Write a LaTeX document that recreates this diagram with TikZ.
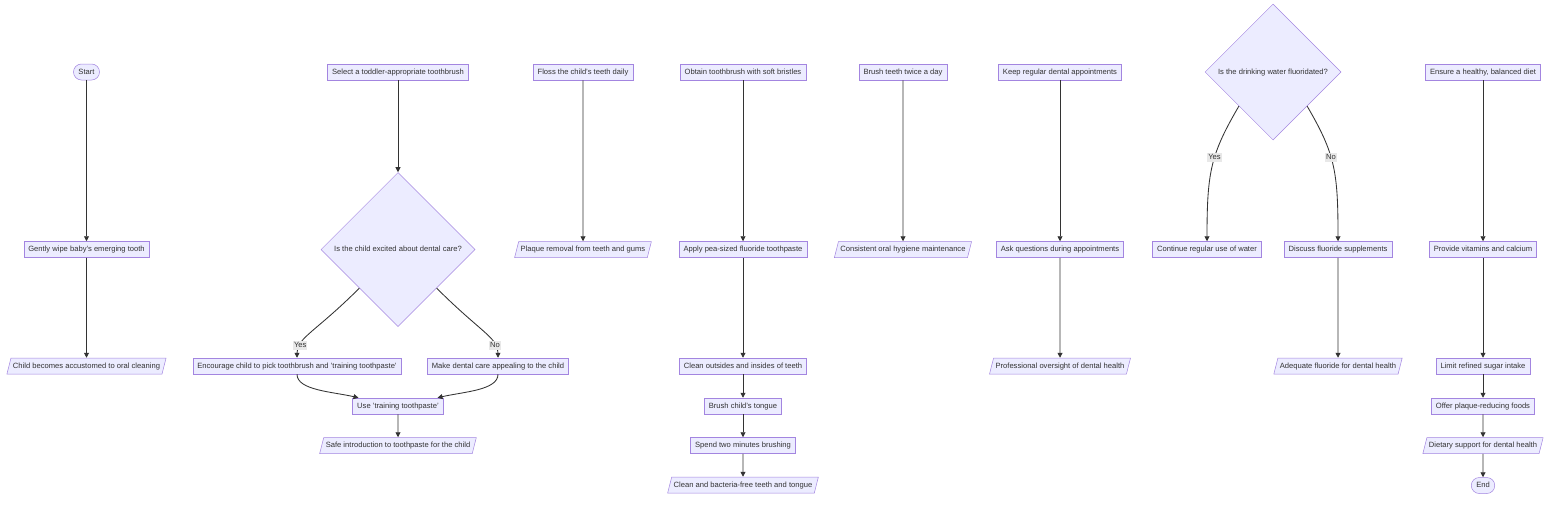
\documentclass[tikz,border=0pt]{standalone}
\usepackage{fontspec}
\setmainfont{Liberation Sans}
\usetikzlibrary{shapes.geometric,arrows.meta,calc}
\definecolor{nodefill}{HTML}{ECECFF}
\definecolor{nodeline}{HTML}{9370DB}
\definecolor{ink}{HTML}{333333}
\definecolor{lblbg}{HTML}{E8E8E8}
\begin{document}
\begin{tikzpicture}[x=1pt,y=-1pt,
  base/.style={fill=nodefill,draw=nodeline!85!white,line width=0.5pt,text=ink,font=\fontsize{7.6}{9}\selectfont,minimum height=16pt,inner xsep=4.5pt,inner ysep=2pt,text height=5.6pt,text depth=1.6pt},
  proc/.style={base,rectangle},
  io/.style={base,trapezium,trapezium left angle=70,trapezium right angle=110,trapezium stretches body,inner xsep=2pt},
  term/.style={base,rectangle,rounded corners=8pt,inner xsep=5pt},
  decision/.style={base,diamond,aspect=1,inner sep=0pt},
  edge/.style={draw=ink,line width=0.85pt,-{Triangle[length=5pt,width=5pt]}},
  lbl/.style={fill=lblbg,text=ink,font=\fontsize{7.6}{9}\selectfont,inner sep=1pt,text height=5.6pt,text depth=1.6pt}
]
\useasboundingbox (0,0) rectangle (1568,504);

% column 1
\node[term] (start) at (86.5,72) {Start};
\node[proc] (wipe) at (86.5,249.5) {Gently wipe baby's emerging tooth};
\node[io] (accust) at (86.5,366) {Child becomes accustomed to oral cleaning};
% column 2
\node[proc] (select) at (398,72) {Select a toddler-appropriate toothbrush};
\node[decision,minimum width=154pt,minimum height=154pt] (d1) at (398,249.5) {Is the child excited about dental care?};
\node[proc] (enc) at (297,366) {Encourage child to pick toothbrush and 'training toothpaste'};
\node[proc] (make) at (498,366) {Make dental care appealing to the child};
\node[proc] (use) at (398,406) {Use 'training toothpaste'};
\node[io] (safe) at (398,445.5) {Safe introduction to toothpaste for the child};
% column 3
\node[proc] (floss) at (583,72) {Floss the child's teeth daily};
\node[io] (plaque) at (583,249.5) {Plaque removal from teeth and gums};
% column 4
\node[proc] (obtain) at (743,72) {Obtain toothbrush with soft bristles};
\node[proc] (apply) at (743,249.5) {Apply pea-sized fluoride toothpaste};
\node[proc] (cleanio) at (743,366) {Clean outsides and insides of teeth};
\node[proc] (tongue) at (743,406) {Brush child's tongue};
\node[proc] (spend) at (743,445.5) {Spend two minutes brushing};
\node[io] (bfree) at (743,485) {Clean and bacteria-free teeth and tongue};
% column 5
\node[proc] (twice) at (903,72) {Brush teeth twice a day};
\node[io] (consist) at (903,249.5) {Consistent oral hygiene maintenance};
% column 6
\node[proc] (keep) at (1060,72) {Keep regular dental appointments};
\node[proc] (ask) at (1060,249.5) {Ask questions during appointments};
\node[io] (prof) at (1060,366) {Professional oversight of dental health};
% column 7
\node[decision,minimum width=136pt,minimum height=136pt] (d2) at (1273,72) {Is the drinking water fluoridated?};
\node[proc] (cont) at (1207,249.5) {Continue regular use of water};
\node[proc] (disc) at (1338,249.5) {Discuss fluoride supplements};
\node[io] (adeq) at (1338,366) {Adequate fluoride for dental health};
% column 8
\node[proc] (ensure) at (1483,72) {Ensure a healthy, balanced diet};
\node[proc] (vit) at (1483,249.5) {Provide vitamins and calcium};
\node[proc] (sugar) at (1483,366) {Limit refined sugar intake};
\node[proc] (offer) at (1483,406) {Offer plaque-reducing foods};
\node[io] (diet) at (1483,445.5) {Dietary support for dental health};
\node[term] (endn) at (1483,485.5) {End};

% straight edges
\draw[edge] (start) -- (wipe);
\draw[edge] (wipe) -- (accust);
\draw[edge] (select) -- (d1);
\draw[edge] (use) -- (safe);
\draw[edge] (floss) -- (plaque);
\draw[edge] (obtain) -- (apply);
\draw[edge] (apply) -- (cleanio);
\draw[edge] (cleanio) -- (tongue);
\draw[edge] (tongue) -- (spend);
\draw[edge] (spend) -- (bfree);
\draw[edge] (twice) -- (consist);
\draw[edge] (keep) -- (ask);
\draw[edge] (ask) -- (prof);
\draw[edge] (disc) -- (adeq);
\draw[edge] (ensure) -- (vit);
\draw[edge] (vit) -- (sugar);
\draw[edge] (sugar) -- (offer);
\draw[edge] (offer) -- (diet);
\draw[edge] (diet) -- (endn);

% curved edges
\draw[edge] (d1.south west) .. controls ($(d1.south west)+(-44,44)$) and ($(enc.north)+(0,-20)$) .. (enc.north) node[lbl,pos=0.76] {Yes};
\draw[edge] (d1.south east) .. controls ($(d1.south east)+(44,44)$) and ($(make.north)+(0,-20)$) .. (make.north) node[lbl,pos=0.76] {No};
\draw[edge] (enc.south) .. controls ($(enc.south)+(0,16)$) and ($(use.north west)+(-20,-6)$) .. ($(use.north west)+(6,0)$);
\draw[edge] (make.south) .. controls ($(make.south)+(0,16)$) and ($(use.north east)+(20,-6)$) .. ($(use.north east)+(-6,0)$);
\draw[edge] (d2.south west) .. controls ($(d2.south west)+(-28,48)$) and ($(cont.north)+(0,-70)$) .. (cont.north) node[lbl,pos=0.43] {Yes};
\draw[edge] (d2.south east) .. controls ($(d2.south east)+(28,48)$) and ($(disc.north)+(0,-70)$) .. (disc.north) node[lbl,pos=0.43] {No};
\end{tikzpicture}
\end{document}
